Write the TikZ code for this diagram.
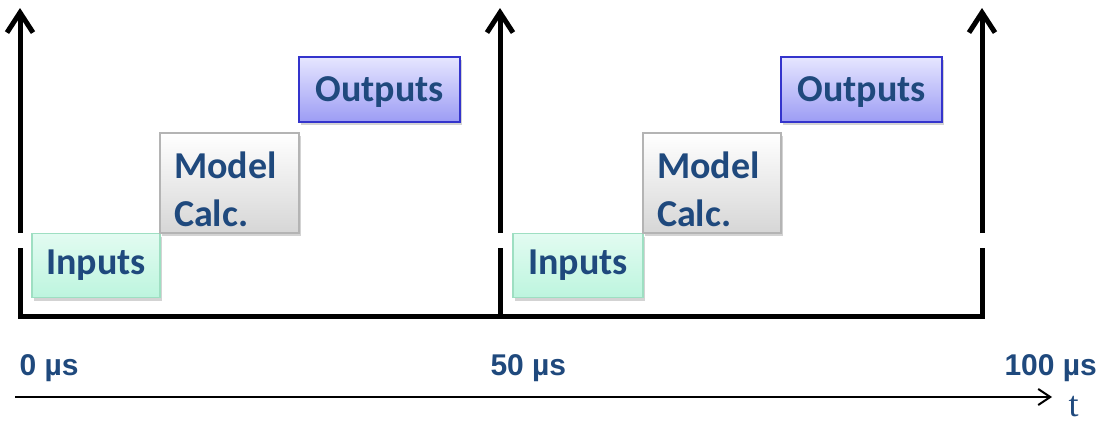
\documentclass[tikz,border=0pt]{standalone}
\usepackage{fontspec}
\usetikzlibrary{arrows.meta,shadows}
\newfontfamily\boxfont{Carlito}
\newfontfamily\labelfont{Liberation Sans}
\newfontfamily\tfont{Liberation Serif}
\definecolor{textblue}{HTML}{1F497D}
\definecolor{inTop}{HTML}{E2FBF1}
\definecolor{inBot}{HTML}{BDF5DE}
\definecolor{inLine}{HTML}{9EDFC2}
\definecolor{calcBot}{HTML}{D6D6D6}
\definecolor{calcLine}{HTML}{B4B4B4}
\definecolor{outTop}{HTML}{E6E6FF}
\definecolor{outBot}{HTML}{9C9CF4}
\definecolor{outLine}{HTML}{3434CC}

\begin{document}
\begin{tikzpicture}[x=1pt, y=-1pt,
  every node/.style={text=textblue},
  taskbox/.style={draw, line width=1.2pt, inner sep=0pt,
    font=\boxfont\bfseries\fontsize{38}{48}\selectfont,
    drop shadow={opacity=0.35, shadow xshift=2pt, shadow yshift=-3pt}},
  inbox/.style={taskbox, draw=inLine, top color=inTop, bottom color=inBot,
    minimum height=64pt},
  calcbox/.style={taskbox, draw=calcLine, top color=white, bottom color=calcBot,
    minimum height=100pt, align=left},
  outbox/.style={taskbox, draw=outLine, top color=outTop, bottom color=outBot,
    minimum width=161pt, minimum height=65pt},
  period/.style={line width=5pt},
  timelabel/.style={anchor=base west, font=\labelfont\bfseries\fontsize{30}{36}\selectfont}]
\useasboundingbox (0,0) rectangle (1102,423);

% Period ticks
\coordinate (p0) at (20,316);
\coordinate (p1) at (500,316);
\coordinate (p2) at (982,316);
\coordinate (p0b) at (20,248);
\coordinate (p1b) at (500,248);
\coordinate (p2b) at (982,248);
\coordinate (p0t) at (20,233);
\coordinate (p1t) at (500,233);
\coordinate (p2t) at (982,233);
\coordinate (p0a) at (20,8);
\coordinate (p1a) at (500,8);
\coordinate (p2a) at (982,8);

% Base line and lower parts
\draw[period] (p0b) -- (p0) -- (p2) -- (p2b);
\draw[period] (p1) -- (p1b);

% Upper arrows
\draw[period, -{Straight Barb[length=20pt, width=26pt]}] (p0t) -- (p0a);
\draw[period, -{Straight Barb[length=20pt, width=26pt]}] (p1t) -- (p1a);
\draw[period, -{Straight Barb[length=20pt, width=26pt]}] (p2t) -- (p2a);

% First period
\node[inbox, minimum width=128pt] (in1) at (96,265.5) {Inputs};
\node[calcbox, minimum width=139pt, text width=111pt] (calc1) at (229.5,183)
  {\rule{0pt}{39pt}Model\\Calc.};
\node[outbox] (out1) at (379.5,89.5) {\rule{0pt}{30pt}Outputs};

% Second period
\node[inbox, minimum width=130pt] (in2) at (578,265.5) {Inputs};
\node[calcbox, minimum width=138pt, text width=110pt] (calc2) at (712,183)
  {\rule{0pt}{39pt}Model\\Calc.};
\node[outbox] (out2) at (861.5,89.5) {\rule{0pt}{30pt}Outputs};

% Time labels
\node[timelabel] (t0) at (16,375) {0 µs};
\node[timelabel] (t50) at (487,375) {50 µs};
\node[timelabel] (t100) at (1001,375) {100 µs};

% Time axis
\coordinate (ax0) at (15,397);
\coordinate (ax1) at (1052,397);
\draw[line width=2pt, -{Straight Barb[length=12pt, width=16pt]}] (ax0) -- (ax1);
\node[anchor=base west, font=\tfont\fontsize{36}{40}\selectfont] (tlab) at (1065,416) {t};
\end{tikzpicture}
\end{document}
